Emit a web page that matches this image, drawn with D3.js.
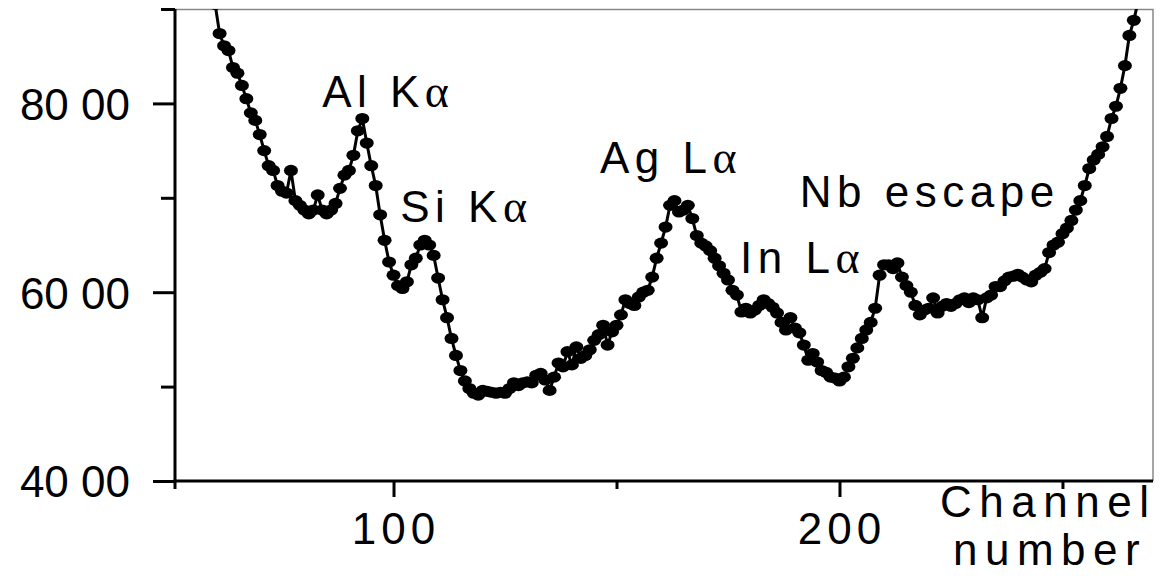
<!DOCTYPE html>
<html>
<head>
<meta charset="utf-8">
<script src="https://d3js.org/d3.v7.min.js"></script>
<style>
body { margin: 0; background: #fff; }
text { font-family: "Liberation Sans", Arial, sans-serif; fill: #000; }
</style>
</head>
<body>
<script>
// spectrum, one value per channel starting at firstChannel
const firstChannel = 60;
const counts = [
    9050, 8740, 8610, 8560, 8380, 8320, 8190, 8050, 7900, 7820,
    7670, 7500, 7340, 7290, 7130, 7070, 7050, 7290, 6970, 6920,
    6870, 6830, 6870, 7030, 6870, 6830, 6870, 6940, 7100, 7240,
    7290, 7450, 7710, 7840, 7580, 7340, 7130, 6820, 6550, 6320,
    6180, 6070, 6040, 6110, 6290, 6360, 6500, 6550, 6500, 6390,
    6150, 5920, 5730, 5510, 5330, 5170, 5060, 4980, 4930, 4910,
    4960, 4950, 4940, 4930, 4940, 4930, 4980, 5040, 5010, 5040,
    5050, 5040, 5120, 5140, 5070, 4960, 5100, 5250, 5210, 5370,
    5230, 5420, 5300, 5330, 5390, 5490, 5550, 5650, 5440, 5580,
    5650, 5760, 5920, 5880, 5860, 5950, 6000, 6020, 6160, 6360,
    6520, 6690, 6920, 6970, 6850, 6870, 6920, 6780, 6600, 6520,
    6490, 6440, 6360, 6280, 6200, 6130, 6020, 5970, 5790, 5830,
    5780, 5810, 5860, 5920, 5880, 5840, 5780, 5680, 5600, 5730,
    5620, 5570, 5440, 5280, 5350, 5260, 5170, 5150, 5100, 5090,
    5060, 5100, 5210, 5300, 5410, 5510, 5600, 5680, 5830, 6180,
    6290, 6290, 6250, 6310, 6160, 6070, 6000, 5860, 5760, 5810,
    5830, 5940, 5780, 5850, 5880, 5850, 5880, 5920, 5940, 5890,
    5940, 5920, 5730, 5940, 5970, 6060, 6060, 6120, 6160, 6170,
    6190, 6160, 6130, 6110, 6180, 6210, 6250, 6420, 6500, 6530,
    6620, 6680, 6760, 6870, 6970, 7130, 7310, 7400, 7460, 7540,
    7650, 7840, 7970, 8160, 8400, 8720, 8880, 9090
];

const yMajorTicks = [4000, 6000, 8000];
const yMinorTicks = [5000, 7000, 9000];
const yTickLabels = ["40 00", "60 00", "80 00"];
const xMajorTicks = [100, 200];
const xMinorTicks = [150, 250];
const xTickLabels = ["100", "200"];

// peak labels, anchored at (channel, count) of their text start
const peakNames = ["Al K", "Si K", "Ag L", "In L", "Nb escape"];
const peakGreek = ["α", "α", "α", "α", ""];
const peakChannels = [84.0, 101.5, 146.3, 177.7, 191.1];
const peakCounts = [7960, 6740, 7260, 6200, 6900];

const data = counts.map((c, i) => ({ channel: firstChannel + i, count: c }));

const margin = { top: 9, right: 7, bottom: 98, left: 175 },
    width = 1160 - margin.left - margin.right,
    height = 579 - margin.top - margin.bottom;

const svg = d3.select("body")
    .append("svg")
    .attr("width", 1160)
    .attr("height", 579);

const g = svg.append("g")
    .attr("transform", "translate(" + margin.left + "," + margin.top + ")");

const x = d3.scaleLinear().domain([51, 270.3]).range([0, width]);
const y = d3.scaleLinear().domain([4000, 9000]).range([height, 0]);

// grey frame top/right
g.append("path")
    .attr("d", "M0,0.5H" + width + "V" + height)
    .attr("fill", "none")
    .attr("stroke", "#888")
    .attr("stroke-width", 1.5);

// points
svg.append("clipPath").attr("id", "clip")
    .append("rect").attr("x", 0).attr("y", 0).attr("width", width).attr("height", height);

const plot = g.append("g").attr("clip-path", "url(#clip)");

plot.append("path")
    .datum(data)
    .attr("fill", "none")
    .attr("stroke", "#000")
    .attr("stroke-width", 3)
    .attr("d", d3.line()
        .x(d => x(d.channel))
        .y(d => y(d.count)));

plot.selectAll("ellipse")
    .data(data)
    .join("ellipse")
    .attr("cx", d => x(d.channel))
    .attr("cy", d => y(d.count))
    .attr("rx", 7)
    .attr("ry", 5.6)
    .attr("fill", "#000");

// y axis
const gy = g.append("g")
    .call(d3.axisLeft(y)
        .tickValues(yMajorTicks)
        .tickSize(22)
        .tickPadding(23)
        .tickFormat((d, i) => yTickLabels[i]));
g.append("g")
    .call(d3.axisLeft(y).tickValues(yMinorTicks).tickSize(14).tickFormat(""));

// x axis
const gx = g.append("g")
    .attr("transform", "translate(0," + height + ")")
    .call(d3.axisBottom(x)
        .tickValues(xMajorTicks)
        .tickSize(16)
        .tickPadding(16)
        .tickFormat((d, i) => xTickLabels[i]));
g.append("g")
    .attr("transform", "translate(0," + height + ")")
    .call(d3.axisBottom(x).tickValues(xMinorTicks).tickSize(8).tickFormat(""));

g.selectAll(".domain").remove();

// axis lines drawn directly
g.append("line").attr("x1", 0).attr("x2", 0).attr("y1", 0).attr("y2", height + 8)
    .attr("stroke", "#000").attr("stroke-width", 3);
g.append("line").attr("x1", -1.5).attr("x2", width).attr("y1", height).attr("y2", height)
    .attr("stroke", "#000").attr("stroke-width", 3);

g.selectAll(".tick line").attr("stroke", "#000").attr("stroke-width", 3);
g.selectAll(".tick text")
    .style("font-family", "'Liberation Sans', Arial, sans-serif")
    .style("font-size", "44px")
    .attr("fill", "#000");
gy.selectAll(".tick text").attr("dy", "0.36em");
gx.selectAll(".tick text").attr("letter-spacing", 5).attr("dx", 2);

// axis title
const title = g.append("text")
    .attr("font-size", 44)
    .attr("letter-spacing", 7.5);
title.append("tspan").attr("x", 765).attr("y", height + 36).text("Channel");
title.append("tspan").attr("x", 778).attr("y", height + 84).text("number");

// peak labels
peakNames.forEach((name, i) => {
    const t = g.append("text")
        .attr("x", x(peakChannels[i]))
        .attr("y", y(peakCounts[i]))
        .attr("font-size", 44)
        .attr("letter-spacing", 5.5)
        .text(name);
    if (peakGreek[i]) {
        t.append("tspan")
            .style("font-family", "'Liberation Serif', 'DejaVu Serif', serif")
            .attr("font-size", 46)
            .text(peakGreek[i]);
    }
});
</script>
</body>
</html>
